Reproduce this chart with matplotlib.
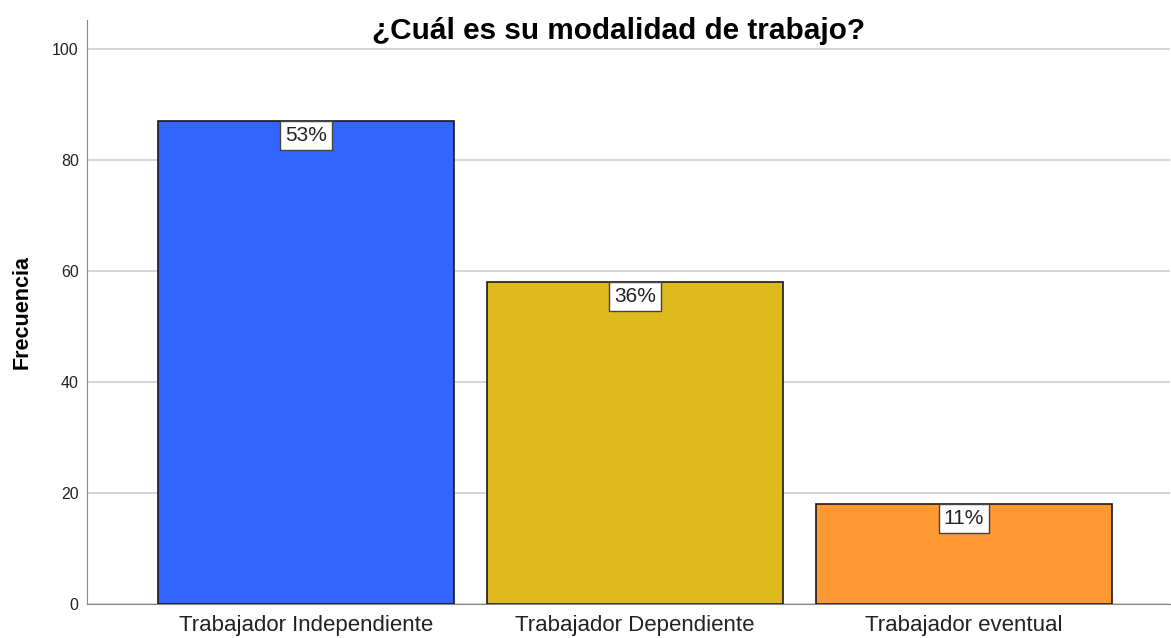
import matplotlib.pyplot as plt

categorias = ['Trabajador Independiente', 'Trabajador Dependiente', 'Trabajador eventual']
frecuencias = [87, 58, 18]
porcentajes = ['53%', '36%', '11%']
colores = ['#3464FE', '#DFBA1F', '#FF9933']

plt.rcParams['font.family'] = ['Liberation Sans Narrow', 'Liberation Sans', 'DejaVu Sans']

fig = plt.figure(figsize=(11.71, 6.38), dpi=100)
ax = fig.add_axes([0.0743, 0.0533, 0.9245, 0.9154])

x = list(range(len(categorias)))
bars = ax.bar(x, frecuencias, width=0.9, color=colores, edgecolor='#1a1a1a', linewidth=1.2, zorder=3)

for b, p in zip(bars, porcentajes):
    ax.annotate(p, (b.get_x() + b.get_width() / 2, b.get_height()),
                xytext=(0, -3.6), textcoords='offset points', ha='center', va='top',
                fontsize=15, color='#222222', zorder=4,
                bbox=dict(boxstyle='square,pad=0.24', fc='white', ec='#444444', lw=1))

ax.set_xlim(-0.666, 2.626)
ax.set_ylim(0, 105.2)
ax.set_yticks([0, 20, 40, 60, 80, 100])
ax.set_xticks(x)
ax.set_xticklabels(categorias, fontsize=16, color='#222222')
ax.tick_params(axis='y', length=0, labelsize=11.5, pad=6, colors='#222222')
ax.tick_params(axis='x', length=0, pad=8)
ax.yaxis.grid(True, color='#D0D0D0', linewidth=1.2, zorder=0)
ax.set_axisbelow(True)

for s in ['top', 'right']:
    ax.spines[s].set_visible(False)
ax.spines['left'].set_color('#888888')
ax.spines['bottom'].set_color('#888888')

ax.set_ylabel('Frecuencia', fontsize=15.5, fontweight='bold', labelpad=14,
              family=['Liberation Sans', 'DejaVu Sans'])
fig.text(0.528, 0.951, '¿Cuál es su modalidad de trabajo?', ha='center', va='center',
         fontsize=21.4, fontweight='bold', family=['Liberation Sans', 'DejaVu Sans'])

fig.savefig('out.png', dpi=100)
